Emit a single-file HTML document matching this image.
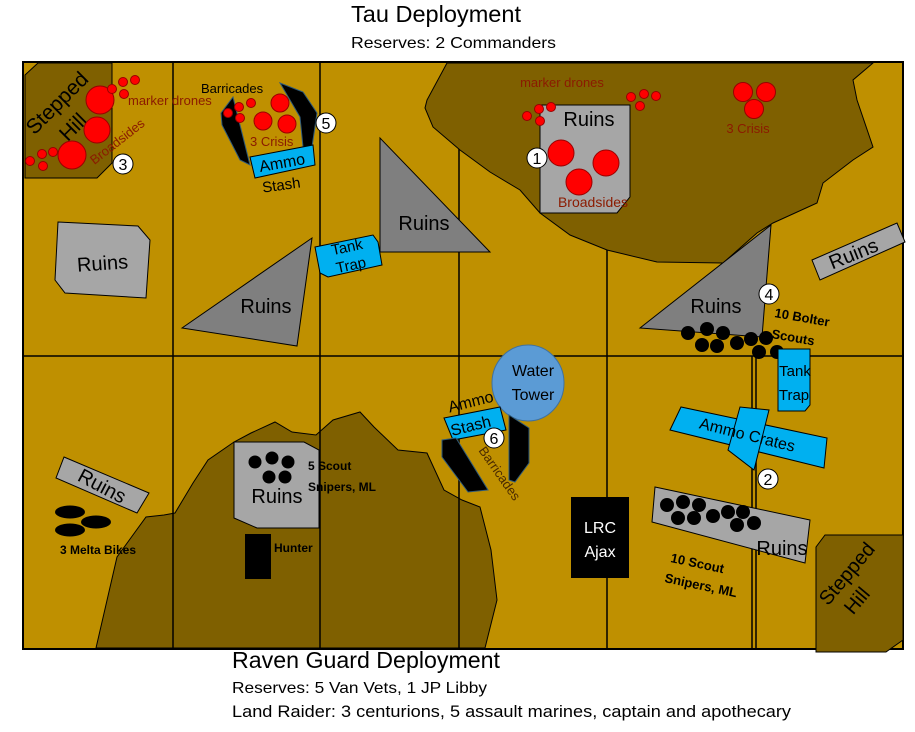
<!DOCTYPE html>
<html><head><meta charset="utf-8"><style>
html,body{margin:0;padding:0;background:#fff;}
svg{display:block;font-family:"Liberation Sans",sans-serif;}
</style></head><body>
<svg width="915" height="732" viewBox="0 0 915 732" xmlns="http://www.w3.org/2000/svg">
<rect x="0" y="0" width="915" height="732" fill="#fff"/>
<text x="351" y="22" font-size="23" textLength="170" lengthAdjust="spacingAndGlyphs">Tau Deployment</text>
<text x="351" y="48" font-size="16" textLength="205" lengthAdjust="spacingAndGlyphs">Reserves: 2 Commanders</text>
<text x="232" y="668" font-size="23" textLength="268" lengthAdjust="spacingAndGlyphs">Raven Guard Deployment</text>
<text x="232" y="693" font-size="16" textLength="255" lengthAdjust="spacingAndGlyphs">Reserves: 5 Van Vets, 1 JP Libby</text>
<text x="232" y="717" font-size="17" textLength="559" lengthAdjust="spacingAndGlyphs">Land Raider: 3 centurions, 5 assault marines, captain and apothecary</text>

<rect x="23" y="62" width="880" height="587" fill="#bf9000" stroke="#000" stroke-width="2"/>
<polygon fill="#7f6000" stroke="#000" stroke-width="1" points="96,648 117,557 146,517 164,515 175,513 193,483 208,460 234,442 251,433 275,422 292,432 316,435 333,420 360,412 374,427 398,450 427,453 444,490 462,500 480,507 491,550 497,600 485,648"/>
<g stroke="#000" stroke-width="1.5">
<line x1="173" y1="62" x2="173" y2="649"/>
<line x1="320" y1="62" x2="320" y2="649"/>
<line x1="459" y1="62" x2="459" y2="649"/>
<line x1="607" y1="62" x2="607" y2="649"/>
<line x1="752" y1="356" x2="752" y2="649"/>
<line x1="756" y1="356" x2="756" y2="649"/>
<line x1="23" y1="356" x2="903" y2="356"/>
</g>
<polygon fill="#7f6000" stroke="#000" stroke-width="1" points="447,63 427,100 425,108 433,127 460,150 490,172 520,190 540,213 570,235 607,250 657,262 723,263 757,233 773,223 817,203 823,183 853,160 873,147 857,100 853,80 873,63"/>
<rect x="23" y="62" width="880" height="587" fill="none" stroke="#000" stroke-width="2"/>

<polygon fill="#7f6000" stroke="#000" points="25,75 38,63 112,63 112,163 97,178 25,178"/>
<text transform="translate(62,108) rotate(-45)" font-size="21" text-anchor="middle">Stepped</text>
<text transform="translate(78,132) rotate(-45)" font-size="21" text-anchor="middle">Hill</text>
<g fill="#f00" stroke="#900" stroke-width="1">
<circle cx="100" cy="100" r="14"/><circle cx="97" cy="130" r="13"/><circle cx="72" cy="155" r="14"/>
<circle cx="112" cy="89" r="4.5"/><circle cx="123" cy="82" r="4.5"/><circle cx="135" cy="80" r="4.5"/><circle cx="124" cy="94" r="4.5"/>
<circle cx="30" cy="161" r="4.5"/><circle cx="42" cy="154" r="4.5"/><circle cx="53" cy="152" r="4.5"/><circle cx="43" cy="166" r="4.5"/>
</g>
<text x="128" y="105" font-size="13" fill="#8b1a00">marker drones</text>
<text transform="translate(120,145) rotate(-38)" font-size="13" fill="#8b1a00" text-anchor="middle">Broadsides</text>
<circle cx="123" cy="164" r="10" fill="#fff" stroke="#000"/><text x="123" y="170" font-size="16" text-anchor="middle">3</text>

<polygon fill="#000" stroke="#2e5a7a" points="221,113 233,97 250,165 240,160 222,125"/>
<polygon fill="#000" stroke="#2e5a7a" points="280,83 303,92 317,113 312,147 303,147 300,117"/>
<g fill="#f00" stroke="#900">
<circle cx="228" cy="113" r="4.5"/><circle cx="239" cy="107" r="4.5"/><circle cx="251" cy="103" r="4.5"/><circle cx="240" cy="118" r="4.5"/>
<circle cx="280" cy="103" r="9"/><circle cx="263" cy="121" r="9"/><circle cx="287" cy="124" r="9"/>
</g>
<text x="201" y="93" font-size="13">Barricades</text>
<text x="250" y="146" font-size="13" fill="#8b1a00">3 Crisis</text>
<polygon fill="#00b0f0" stroke="#000" points="250,157 313,145 315,165 255,178"/>
<text transform="translate(283,168) rotate(-10)" font-size="16" text-anchor="middle">Ammo</text>
<text transform="translate(282,190) rotate(-8)" font-size="15" text-anchor="middle">Stash</text>
<circle cx="326" cy="123" r="10" fill="#fff" stroke="#000"/><text x="326" y="129" font-size="16" text-anchor="middle">5</text>

<polygon fill="#a6a6a6" stroke="#000" points="58,222 138,226 150,240 146,298 65,293 55,280"/>
<text transform="translate(103,270) rotate(-4)" font-size="20" text-anchor="middle">Ruins</text>
<polygon fill="#7f7f7f" stroke="#000" points="182,328 312,238 297,346"/>
<text x="266" y="313" font-size="20" text-anchor="middle">Ruins</text>
<polygon fill="#7f7f7f" stroke="#000" points="380,138 380,252 490,252"/>
<text x="424" y="230" font-size="20" text-anchor="middle">Ruins</text>
<polygon fill="#00b0f0" stroke="#000" points="315,247 373,235 378,242 382,265 328,277 320,273"/>
<text transform="translate(348,252) rotate(-12)" font-size="15" text-anchor="middle">Tank</text>
<text transform="translate(352,270) rotate(-12)" font-size="15" text-anchor="middle">Trap</text>

<polygon fill="#a6a6a6" stroke="#000" points="540,105 630,105 630,197 617,213 540,213"/>
<text x="589" y="126" font-size="20" text-anchor="middle">Ruins</text>
<g fill="#f00" stroke="#900">
<circle cx="561" cy="153" r="13"/><circle cx="606" cy="163" r="13"/><circle cx="579" cy="182" r="13"/>
<circle cx="527" cy="116" r="4.5"/><circle cx="539" cy="109" r="4.5"/><circle cx="551" cy="107" r="4.5"/><circle cx="540" cy="121" r="4.5"/>
<circle cx="631" cy="97" r="4.5"/><circle cx="644" cy="94" r="4.5"/><circle cx="656" cy="96" r="4.5"/><circle cx="640" cy="106" r="4.5"/>
<circle cx="743" cy="92" r="9.5"/><circle cx="766" cy="92" r="9.5"/><circle cx="754" cy="109" r="9.5"/>
</g>
<text x="593" y="207" font-size="14" fill="#8b1a00" text-anchor="middle">Broadsides</text>
<text x="562" y="87" font-size="13" fill="#8b1a00" text-anchor="middle">marker drones</text>
<text x="748" y="133" font-size="13" fill="#8b1a00" text-anchor="middle">3 Crisis</text>
<circle cx="537" cy="158" r="10" fill="#fff" stroke="#000"/><text x="537" y="164" font-size="16" text-anchor="middle">1</text>

<polygon fill="#7f7f7f" stroke="#000" points="640,328 771,225 762,337"/>
<text x="716" y="313" font-size="20" text-anchor="middle">Ruins</text>
<circle cx="769" cy="294" r="10" fill="#fff" stroke="#000"/><text x="769" y="300" font-size="16" text-anchor="middle">4</text>
<text transform="translate(774,317) rotate(10)" font-size="13" font-weight="bold">10 Bolter</text>
<text transform="translate(771,338) rotate(10)" font-size="13" font-weight="bold">Scouts</text>
<g fill="#000">
<circle cx="688" cy="333" r="7"/><circle cx="707" cy="329" r="7"/><circle cx="723" cy="333" r="7"/><circle cx="702" cy="345" r="7"/><circle cx="717" cy="346" r="7"/><circle cx="737" cy="343" r="7"/><circle cx="751" cy="339" r="7"/><circle cx="766" cy="338" r="7"/><circle cx="759" cy="352" r="7"/><circle cx="777" cy="352" r="7"/>
</g>
<polygon fill="#a6a6a6" stroke="#000" points="812,260 897,223 905,242 820,280"/>
<text transform="translate(856,260) rotate(-22)" font-size="20" text-anchor="middle">Ruins</text>

<polygon fill="#00b0f0" stroke="#000" points="778,349 810,349 810,405 805,411 778,411"/>
<text x="795" y="376" font-size="15" text-anchor="middle">Tank</text>
<text x="794" y="400" font-size="15" text-anchor="middle">Trap</text>
<polygon fill="#00b0f0" stroke="#000" points="670,430 681,407 827,438 824,468"/>
<polygon fill="#00b0f0" stroke="#000" points="728,450 740,407 769,410 754,470"/>
<text transform="translate(746,440) rotate(14)" font-size="16" text-anchor="middle">Ammo Crates</text>
<circle cx="768" cy="479" r="10" fill="#fff" stroke="#000"/><text x="768" y="485" font-size="16" text-anchor="middle">2</text>

<polygon fill="#a6a6a6" stroke="#000" points="655,487 810,520 805,563 652,522"/>
<text x="782" y="555" font-size="20" text-anchor="middle">Ruins</text>
<g fill="#000">
<circle cx="667" cy="505" r="7"/><circle cx="683" cy="502" r="7"/><circle cx="699" cy="505" r="7"/><circle cx="678" cy="518" r="7"/><circle cx="694" cy="518" r="7"/><circle cx="713" cy="516" r="7"/><circle cx="728" cy="512" r="7"/><circle cx="743" cy="512" r="7"/><circle cx="737" cy="525" r="7"/><circle cx="754" cy="523" r="7"/>
</g>
<text transform="translate(670,562) rotate(12)" font-size="13" font-weight="bold">10 Scout</text>
<text transform="translate(664,582) rotate(12)" font-size="13" font-weight="bold">Snipers, ML</text>
<polygon fill="#7f6000" stroke="#000" points="825,535 903,535 903,640 886,652 816,652 816,547"/>
<text transform="translate(852,578) rotate(-50)" font-size="20" text-anchor="middle">Stepped</text>
<text transform="translate(862,605) rotate(-50)" font-size="20" text-anchor="middle">Hill</text>

<ellipse cx="528" cy="383" rx="36" ry="38" fill="#5b9bd5" stroke="#41719c"/>
<text x="533" y="376" font-size="16" text-anchor="middle">Water</text>
<text x="533" y="400" font-size="16" text-anchor="middle">Tower</text>
<polygon fill="#00b0f0" stroke="#000" points="444,418 500,407 506,430 453,440"/>
<text transform="translate(472,407) rotate(-14)" font-size="16" text-anchor="middle">Ammo</text>
<text transform="translate(472,431) rotate(-14)" font-size="16" text-anchor="middle">Stash</text>
<polygon fill="#000" stroke="#2e5a7a" points="442,440 456,438 488,490 468,492 442,457"/>
<polygon fill="#000" stroke="#2e5a7a" points="509,415 529,428 529,463 515,482 509,480"/>
<circle cx="494" cy="438" r="10" fill="#fff" stroke="#000"/><text x="494" y="444" font-size="16" text-anchor="middle">6</text>
<text transform="translate(496,476) rotate(55)" font-size="13" fill="#4a2a00" text-anchor="middle">Barricades</text>

<rect x="571" y="497" width="58" height="81" fill="#000"/>
<text x="600" y="533" font-size="16" fill="#fff" text-anchor="middle">LRC</text>
<text x="600" y="557" font-size="16" fill="#fff" text-anchor="middle">Ajax</text>

<polygon fill="#a6a6a6" stroke="#000" points="64,457 149,493 137,513 56,478"/>
<text transform="translate(99,492) rotate(28)" font-size="20" text-anchor="middle">Ruins</text>
<g fill="#000">
<ellipse cx="70" cy="512" rx="15" ry="6.5"/><ellipse cx="96" cy="522" rx="15" ry="6.5"/><ellipse cx="70" cy="530" rx="15" ry="6.5"/>
</g>
<text x="98" y="554" font-size="12" font-weight="bold" text-anchor="middle">3 Melta Bikes</text>
<polygon fill="#a6a6a6" stroke="#000" points="234,442 304,442 319,450 319,528 257,528 234,518"/>
<text x="277" y="503" font-size="20" text-anchor="middle">Ruins</text>
<g fill="#000">
<circle cx="255" cy="462" r="6.5"/><circle cx="272" cy="458" r="6.5"/><circle cx="288" cy="462" r="6.5"/><circle cx="269" cy="477" r="6.5"/><circle cx="285" cy="477" r="6.5"/>
</g>
<text x="308" y="470" font-size="12" font-weight="bold">5 Scout</text>
<text x="308" y="491" font-size="12" font-weight="bold">Snipers, ML</text>
<rect x="245" y="534" width="26" height="45" fill="#000"/>
<text x="274" y="552" font-size="12" font-weight="bold">Hunter</text>
</svg>
</body></html>
